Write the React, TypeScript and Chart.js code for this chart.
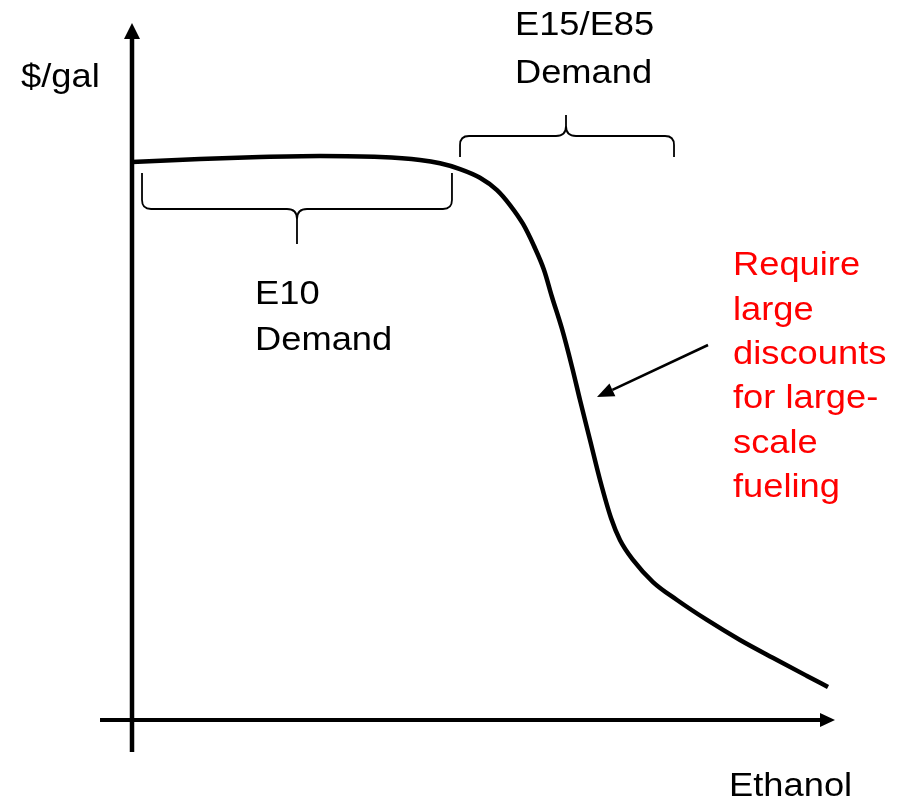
import React, { useEffect, useRef } from "react";
import { Chart, registerables } from "chart.js";

Chart.register(...registerables);

// Curve: ethanol quantity (x) vs price $/gal (y), conceptual units
const ethanolValues = [0.0, 9.71, 18.29, 26.86, 35.43, 41.14, 44.0, 46.86, 49.71, 52.14, 54.0, 55.86, 57.43, 58.86, 60.0, 61.43, 62.86, 64.0, 65.43, 66.86, 68.43, 69.71, 71.57, 74.43, 77.86, 82.14, 86.86, 92.14, 96.43, 99.43];
const priceValues = [79.71, 80.14, 80.43, 80.57, 80.43, 80.0, 79.53, 78.71, 77.47, 75.71, 73.57, 70.86, 67.71, 64.29, 60.43, 55.86, 50.43, 45.71, 40.0, 34.29, 28.86, 25.71, 22.86, 19.71, 17.14, 14.29, 11.43, 8.57, 6.29, 4.71];

// Text labels
const yAxisTitle = "$/gal";
const xAxisTitle = "Ethanol";
const e10Label = ["E10", "Demand"];
const e15Label = ["E15/E85", "Demand"];
const noteLines = ["Require", "large", "discounts", "for large-", "scale", "fueling"];

const X_MIN = -132 / 7;
const X_MAX = (909 - 132) / 7;
const Y_MAX = 720 / 7;
const Y_MIN = -81 / 7;

const FONT = '33px "Liberation Sans", Arial, sans-serif';
const HSCALE = 1.1;

const overlay = {
  id: "overlay",
  afterDatasetsDraw(chart: any) {
    const ctx: CanvasRenderingContext2D = chart.ctx;
    const xs = chart.scales.x;
    const ys = chart.scales.y;
    const px = (v: number) => xs.getPixelForValue(v);
    const py = (v: number) => ys.getPixelForValue(v);

    ctx.save();
    ctx.strokeStyle = "#000";
    ctx.fillStyle = "#000";
    ctx.lineCap = "butt";

    // Y axis with arrow
    const ax0 = px(0);
    ctx.lineWidth = 4.5;
    ctx.beginPath();
    ctx.moveTo(ax0, py(-4.57));
    ctx.lineTo(ax0, py(97.5));
    ctx.stroke();
    ctx.beginPath();
    ctx.moveTo(ax0, py(99.57));
    ctx.lineTo(ax0 - 8, py(97.29));
    ctx.lineTo(ax0 + 8, py(97.29));
    ctx.closePath();
    ctx.fill();

    // X axis with arrow
    const ay0 = py(0);
    ctx.lineWidth = 4;
    ctx.beginPath();
    ctx.moveTo(px(-4.57), ay0);
    ctx.lineTo(px(98.5), ay0);
    ctx.stroke();
    ctx.beginPath();
    ctx.moveTo(px(100.43), ay0);
    ctx.lineTo(px(98.29), ay0 - 7);
    ctx.lineTo(px(98.29), ay0 + 7);
    ctx.closePath();
    ctx.fill();

    // Braces
    const brace = (x1: number, xm: number, x2: number, yEnd: number, yBar: number, yTip: number) => {
      const X1 = px(x1), XM = px(xm), X2 = px(x2);
      const YE = py(yEnd), YB = py(yBar), YT = py(yTip);
      const dir = YT > YB ? 1 : -1; // tip direction
      const r = 9;
      const rm = 10;
      ctx.lineWidth = 1.8;
      ctx.beginPath();
      ctx.moveTo(X1, YE);
      ctx.lineTo(X1, YB - dir * r);
      ctx.quadraticCurveTo(X1, YB, X1 + r, YB);
      ctx.lineTo(XM - rm, YB);
      ctx.quadraticCurveTo(XM, YB, XM, YB + dir * rm);
      ctx.lineTo(XM, YT);
      ctx.moveTo(XM, YB + dir * rm);
      ctx.quadraticCurveTo(XM, YB, XM + rm, YB);
      ctx.lineTo(X2 - r, YB);
      ctx.quadraticCurveTo(X2, YB, X2, YB - dir * r);
      ctx.lineTo(X2, YE);
      ctx.stroke();
    };
    brace(1.43, 23.57, 45.71, 78.14, 73.0, 68.0);
    brace(46.86, 62.0, 77.43, 80.43, 83.43, 86.43);

    // Annotation arrow
    const sx = px(82.29), sy = py(53.57);
    const tx = px(66.43), ty = py(46.14);
    const ang = Math.atan2(ty - sy, tx - sx);
    const hl = 17, hw = 7;
    const bx = tx - hl * Math.cos(ang), by = ty - hl * Math.sin(ang);
    ctx.lineWidth = 2.6;
    ctx.beginPath();
    ctx.moveTo(sx, sy);
    ctx.lineTo(bx, by);
    ctx.stroke();
    ctx.beginPath();
    ctx.moveTo(tx, ty);
    ctx.lineTo(bx + hw * Math.sin(ang), by - hw * Math.cos(ang));
    ctx.lineTo(bx - hw * Math.sin(ang), by + hw * Math.cos(ang));
    ctx.closePath();
    ctx.fill();

    // Texts
    ctx.font = FONT;
    ctx.textAlign = "left";
    ctx.textBaseline = "alphabetic";
    const text = (t: string, x: number, y: number, color: string) => {
      ctx.save();
      ctx.fillStyle = color;
      ctx.translate(px(x), py(y));
      ctx.scale(HSCALE, 1);
      ctx.fillText(t, 0, 0);
      ctx.restore();
    };
    text(yAxisTitle, -15.86, 90.43, "#000");
    text(xAxisTitle, 85.29, -10.86, "#000");
    text(e15Label[0], 54.71, 97.86, "#000");
    text(e15Label[1], 54.71, 91.0, "#000");
    text(e10Label[0], 17.57, 59.43, "#000");
    text(e10Label[1], 17.57, 52.86, "#000");
    const noteY = [63.57, 57.21, 50.86, 44.57, 38.21, 31.86];
    noteLines.forEach((t, i) => text(t, 85.86, noteY[i], "#ff0000"));

    ctx.restore();
  },
};

export default function App() {
  const ref = useRef<HTMLCanvasElement | null>(null);
  useEffect(() => {
    if (!ref.current) return;
    const chart = new Chart(ref.current, {
      type: "line",
      data: {
        datasets: [
          {
            data: ethanolValues.map((x, i) => ({ x, y: priceValues[i] })),
            borderColor: "#000",
            borderWidth: 4.5,
            pointRadius: 0,
            cubicInterpolationMode: "monotone",
            fill: false,
            clip: false as any,
          },
        ],
      },
      options: {
        animation: false,
        responsive: false,
        devicePixelRatio: 1,
        layout: { padding: 0, autoPadding: false } as any,
        plugins: { legend: { display: false }, tooltip: { enabled: false } },
        events: [],
        scales: {
          x: { type: "linear", min: X_MIN, max: X_MAX, display: false },
          y: { type: "linear", min: Y_MIN, max: Y_MAX, display: false },
        },
      },
      plugins: [overlay],
    });
    return () => chart.destroy();
  }, []);
  return (
    <div style={{ position: "fixed", left: 0, top: 0, width: 909, height: 801, background: "#fff" }}>
      <canvas ref={ref} width={909} height={801} />
    </div>
  );
}
